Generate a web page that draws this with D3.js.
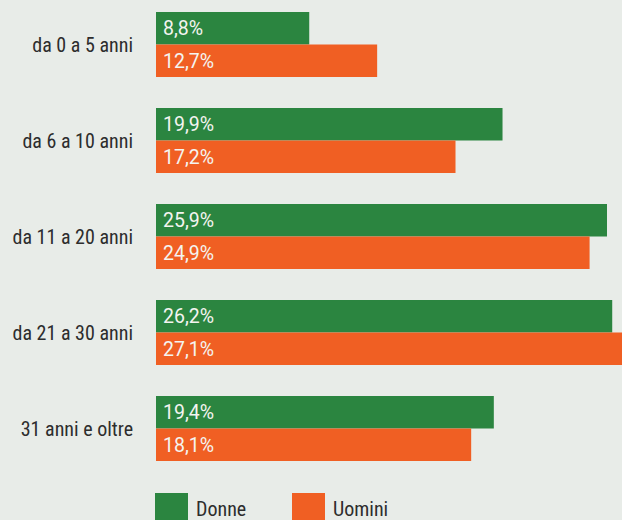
<!DOCTYPE html>
<html>
<head>
<meta charset="utf-8">
<script src="https://cdn.jsdelivr.net/npm/d3@7/dist/d3.min.js"></script>
<style>
  html, body { margin: 0; padding: 0; background: #e8ece8; overflow: hidden; }
  svg { display: block; }
  text { font-family: "Roboto Condensed", "Liberation Sans Narrow", sans-serif; }
  text.val { font-family: Roboto, sans-serif; }
</style>
</head>
<body>
<svg id="chart" width="622" height="520"></svg>
<script>
const categories = ["da 0 a 5 anni", "da 6 a 10 anni", "da 11 a 20 anni", "da 21 a 30 anni", "31 anni e oltre"];
const seriesNames = ["Donne", "Uomini"];
const donne = [8.8, 19.9, 25.9, 26.2, 19.4];
const uomini = [12.7, 17.2, 24.9, 27.1, 18.1];
const colors = ["#2b8540", "#f05f23"];

const W = 622, H = 520;
const svg = d3.select("#chart");
svg.append("rect").attr("width", W).attr("height", H).attr("fill", "#e8ece8");

const left = 156;
// ~17.4px per percentage point; the longest bar runs past the right edge
const x = d3.scaleLinear().domain([0, 25.9]).range([left, 607]);
// 96px per age group, 65px of bars each
const y0 = d3.scaleBand().domain(categories).range([12, 461]).paddingInner(31 / 96).paddingOuter(0);
const y1 = d3.scaleBand().domain(seriesNames).range([0, y0.bandwidth()]);

const rows = categories.map((c, i) => ({ cat: c, vals: [donne[i], uomini[i]] }));

const fmt = v => d3.format(".1f")(v).replace(".", ",") + "%";

const g = svg.append("g");
const groups = g.selectAll("g.grp").data(rows).join("g")
  .attr("class", "grp")
  .attr("transform", d => `translate(0,${y0(d.cat)})`);

groups.selectAll("rect").data(d => d.vals.map((v, k) => ({ v, k })))
  .join("rect")
  .attr("x", x(0))
  .attr("y", d => y1(seriesNames[d.k]))
  .attr("width", d => x(d.v) - x(0))
  .attr("height", y1.bandwidth())
  .attr("fill", d => colors[d.k]);

groups.selectAll("text.val").data(d => d.vals.map((v, k) => ({ v, k })))
  .join("text")
  .attr("class", "val")
  .attr("x", x(0) + 7)
  .attr("y", d => y1(seriesNames[d.k]) + y1.bandwidth() / 2)
  .attr("dy", "0.36em")
  .attr("fill", "#f4f4f0")
  .attr("font-size", 19.5)
  .text(d => fmt(d.v));

groups.append("text")
  .attr("x", 133)
  .attr("y", y0.bandwidth() / 2)
  .attr("dy", "0.36em")
  .attr("text-anchor", "end")
  .attr("fill", "#2d2d2d")
  .attr("font-size", 20)
  .text(d => d.cat);

// legend
const legend = svg.append("g").attr("transform", "translate(0,493)");
const legX = [155, 292];
seriesNames.forEach((n, k) => {
  legend.append("rect").attr("x", legX[k]).attr("y", 0).attr("width", 33).attr("height", 33).attr("fill", colors[k]);
  legend.append("text").attr("x", legX[k] + 41).attr("y", 23)
    .attr("fill", "#2d2d2d").attr("font-size", 20).text(n);
});
</script>
</body>
</html>
